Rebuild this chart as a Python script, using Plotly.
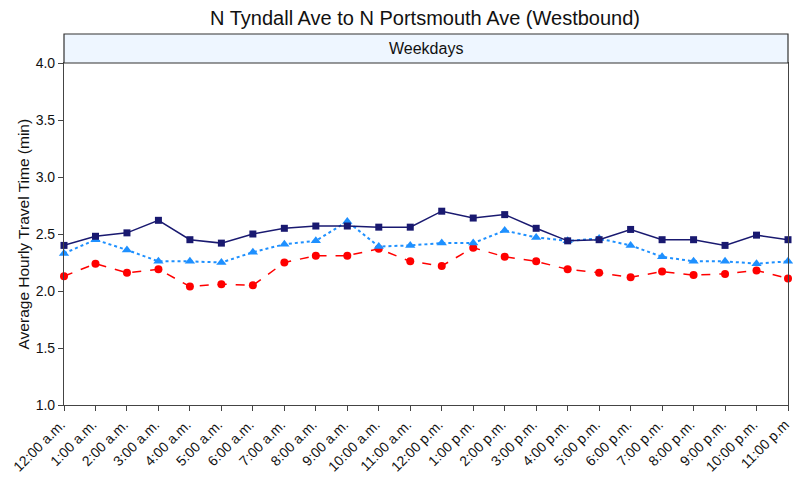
import plotly.graph_objects as go

hours = ["12:00 a.m.", "1:00 a.m.", "2:00 a.m.", "3:00 a.m.", "4:00 a.m.", "5:00 a.m.",
         "6:00 a.m.", "7:00 a.m.", "8:00 a.m.", "9:00 a.m.", "10:00 a.m.", "11:00 a.m.",
         "12:00 p.m.", "1:00 p.m.", "2:00 p.m.", "3:00 p.m.", "4:00 p.m.", "5:00 p.m.",
         "6:00 p.m.", "7:00 p.m.", "8:00 p.m.", "9:00 p.m.", "10:00 p.m.", "11:00 p.m"]

series_navy = [2.40, 2.48, 2.51, 2.62, 2.45, 2.42, 2.50, 2.55, 2.57, 2.57, 2.56, 2.56,
               2.70, 2.64, 2.67, 2.55, 2.44, 2.45, 2.54, 2.45, 2.45, 2.40, 2.49, 2.45]
series_blue = [2.33, 2.45, 2.36, 2.26, 2.26, 2.25, 2.34, 2.41, 2.44, 2.61, 2.39, 2.40,
               2.42, 2.42, 2.53, 2.47, 2.44, 2.46, 2.40, 2.30, 2.26, 2.26, 2.24, 2.26]
series_red = [2.13, 2.24, 2.16, 2.19, 2.04, 2.06, 2.05, 2.25, 2.31, 2.31, 2.37, 2.26,
              2.22, 2.38, 2.30, 2.26, 2.19, 2.16, 2.12, 2.17, 2.14, 2.15, 2.18, 2.11]

x = list(range(len(hours)))

FONT = "Liberation Sans, Arial, sans-serif"

fig = go.Figure()
fig.add_trace(go.Scatter(x=x, y=series_red, mode="lines+markers", cliponaxis=False,
                         line=dict(color="#FF0000", width=1.5, dash="dash"),
                         marker=dict(symbol="circle", size=8, color="#FF0000")))
fig.add_trace(go.Scatter(x=x, y=series_blue, mode="lines+markers", cliponaxis=False,
                         line=dict(color="#1E90FF", width=2, dash="dot"),
                         marker=dict(symbol="triangle-up", size=9, color="#1E90FF")))
fig.add_trace(go.Scatter(x=x, y=series_navy, mode="lines+markers", cliponaxis=False,
                         line=dict(color="#191970", width=1.5),
                         marker=dict(symbol="square", size=7, color="#191970")))

# panel strip above the plotting region
strip_h = 29 / 342
fig.add_shape(type="rect", xref="paper", yref="paper", x0=0, x1=1, y0=1, y1=1 + strip_h,
              fillcolor="#EEF6FF", line=dict(color="#333333", width=1.2))
fig.add_annotation(xref="paper", yref="paper", x=0.5, y=1 + strip_h / 2, text="Weekdays",
                   xanchor="center", yanchor="middle", showarrow=False,
                   font=dict(family=FONT, size=16, color="#111111"))

# y-axis title placed as a rotated annotation
fig.add_annotation(xref="paper", yref="paper", x=-0.056, y=0.5,
                   text="Average Hourly Travel Time (min)", textangle=-90,
                   xanchor="center", yanchor="middle", showarrow=False,
                   font=dict(family=FONT, size=15.5, color="#111111"))

fig.update_layout(
    width=793, height=478,
    margin=dict(l=64, r=5, t=63, b=73),
    paper_bgcolor="white", plot_bgcolor="white",
    showlegend=False,
    font=dict(family=FONT, color="#111111"),
    title=dict(text="N Tyndall Ave to N Portsmouth Ave (Westbound)", x=0.536, xanchor="center",
               y=0.963, yanchor="middle", font=dict(family=FONT, size=20, color="#111111")),
)
fig.update_xaxes(range=[0, 23], tickmode="array", tickvals=x, ticktext=hours, tickangle=-45,
                 ticklabeloverflow="allow", automargin=False, ticklabelshift=-3,
                 showgrid=False, zeroline=False, showline=True, linecolor="#444444", linewidth=1.2,
                 mirror=True, ticks="outside", ticklen=5, tickcolor="#444444",
                 tickfont=dict(family=FONT, size=14, color="#111111"))
fig.update_yaxes(range=[1, 4], tickvals=[1.0, 1.5, 2.0, 2.5, 3.0, 3.5, 4.0], tickformat=".1f",
                 automargin=False,
                 showgrid=False, zeroline=False, showline=True, linecolor="#444444", linewidth=1.2,
                 mirror=True, ticks="outside", ticklen=5, tickcolor="#444444",
                 tickfont=dict(family=FONT, size=14, color="#111111"))

fig.write_html("out.html")
